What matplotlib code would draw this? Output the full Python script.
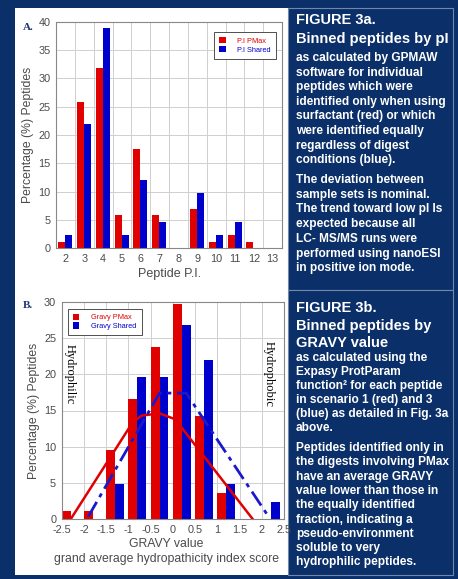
import matplotlib
matplotlib.use("Agg")
import matplotlib.pyplot as plt
from matplotlib.patches import Rectangle

# --- Data: Figure 3a, binned by pI ---
pi_bins = [2, 3, 4, 5, 6, 7, 8, 9, 10, 11, 12, 13]
pi_pmax = [1.1, 25.8, 31.8, 5.8, 17.6, 5.8, 0, 7.0, 1.1, 2.3, 1.1, 0]
pi_shared = [2.3, 21.9, 38.9, 2.3, 12.1, 4.7, 0, 9.7, 2.3, 4.7, 0, 0]

# --- Data: Figure 3b, binned by GRAVY ---
gravy_bins = [-2.5, -2.0, -1.5, -1.0, -0.5, 0.0, 0.5, 1.0, 1.5, 2.0]
gravy_pmax = [1.1, 1.1, 9.5, 16.6, 23.8, 29.7, 14.2, 3.6, 0, 0]
gravy_shared = [0, 0, 4.9, 19.6, 19.6, 26.8, 22.0, 4.9, 0, 2.4]
gravy_ticks = [-2.5, -2, -1.5, -1, -0.5, 0, 0.5, 1, 1.5, 2, 2.5]

# fitted trend lines
fit_pmax_x = [-2.3, -0.9, -0.7, -0.3, 0.05, 1.8]
fit_pmax_y = [0, 13.4, 14.3, 14.6, 13.8, 0]
fit_shared_x = [-1.9, -0.3, 0.3, 2.15]
fit_shared_y = [0.4, 17.4, 17.4, 0.4]

NAVY = "#0b2f68"
RED = "#e00000"
BLUE = "#0000cc"
GRID = "#cfcfcf"
TXT = "#4a4a4a"

W, H = 458, 579
plt.rcParams["font.family"] = ["Liberation Sans", "DejaVu Sans"]

fig = plt.figure(figsize=(W / 100, H / 100), dpi=100, facecolor=NAVY)


def fx(x):
    return x / W


def fy(y):
    return 1 - y / H


def box(x0, y0, x1, y1, **kw):
    fig.patches.append(Rectangle((fx(x0), fy(y1)), fx(x1) - fx(x0), fy(y0) - fy(y1),
                                 transform=fig.transFigure, zorder=-10, **kw))


# white panel + caption boxes
box(15, 8, 288, 575, facecolor="white", edgecolor="none")
box(288, 8, 453, 290, facecolor=NAVY, edgecolor="#7088ad", lw=0.8)
box(288, 290, 453, 575, facecolor=NAVY, edgecolor="#7088ad", lw=0.8)


def style_axes(ax):
    ax.set_facecolor("white")
    ax.grid(True, color=GRID, lw=0.7)
    ax.set_axisbelow(True)
    for s in ax.spines.values():
        s.set_color("#888888")
        s.set_linewidth(0.8)
    ax.tick_params(length=0, labelsize=7.8, colors=TXT, pad=4)


def small_legend(ax, loc, anchor):
    leg = ax.legend(loc=loc, bbox_to_anchor=anchor, fontsize=5.3,
                    fancybox=False, edgecolor="#333333", framealpha=1,
                    handlelength=0.9, handleheight=0.9, handletextpad=1.6,
                    borderpad=0.7, labelspacing=0.15)
    leg.get_frame().set_linewidth(0.6)
    for t, c in zip(leg.get_texts(), [RED, BLUE]):
        t.set_color(c)
    return leg


# --- Panel A ---
axA = fig.add_axes([fx(56), fy(248.3), fx(282) - fx(56), fy(21.7) - fy(248.3)])
style_axes(axA)
w = 0.37
axA.bar([b - w / 2 - 0.02 for b in pi_bins], pi_pmax, width=w, color=RED, label="P.I PMax")
axA.bar([b + w / 2 - 0.02 for b in pi_bins], pi_shared, width=w, color=BLUE, label="P.I Shared")
axA.set_xlim(1.5, 13.5)
axA.set_ylim(0, 40)
axA.set_xticks(pi_bins)
axA.set_xticks([b + 0.5 for b in pi_bins[:-1]], minor=True)
axA.set_yticks(range(0, 41, 5))
axA.grid(False, axis="x", which="major")
axA.grid(True, axis="x", which="minor", color=GRID, lw=0.7)
axA.tick_params(which="minor", length=0)
axA.set_xlabel("Peptide P.I.", fontsize=9, color=TXT, labelpad=3)
axA.set_ylabel("Percentage (%) Peptides", fontsize=8.8, color=TXT, labelpad=3)
small_legend(axA, "upper right", (0.99, 0.97))
fig.text(fx(28), fy(27), "A.", fontsize=8, fontweight="bold", family="Liberation Serif",
         color="#1c3575", ha="center", va="center")

# --- Panel B ---
axB = fig.add_axes([fx(61.7), fy(519.3), fx(284) - fx(61.7), fy(301.7) - fy(519.3)])
style_axes(axB)
wb = 0.2
axB.bar([b + 0.1 for b in gravy_bins], gravy_pmax, width=wb, color=RED, label="Gravy PMax")
axB.bar([b + 0.3 for b in gravy_bins], gravy_shared, width=wb, color=BLUE, label="Gravy Shared")
axB.plot(fit_pmax_x, fit_pmax_y, color=RED, lw=1.8)
axB.plot(fit_shared_x, fit_shared_y, color="#1a1acc", lw=2.0, linestyle=(0, (6, 2, 1.5, 2)))
axB.set_xlim(-2.5, 2.5)
axB.set_ylim(0, 30)
axB.set_xticks(gravy_ticks)
axB.set_xticklabels([f"{v:g}" for v in gravy_ticks])
axB.set_yticks(range(0, 31, 5))
axB.set_xlabel("GRAVY value\ngrand average hydropathicity index score", fontsize=8.8,
               color=TXT, linespacing=1.25)
axB.xaxis.set_label_coords(0.47, -0.088, transform=axB.transAxes)
axB.xaxis.label.set_va("top")
axB.set_ylabel("Percentage (%) Peptides", fontsize=8.8, color=TXT, labelpad=3)
small_legend(axB, "upper left", (0.01, 0.985))
axB.text(-2.31, 20, "Hydrophilic", rotation=-90, family="Liberation Serif", fontsize=9,
         ha="center", va="center", color="black")
axB.text(2.15, 20, "Hydrophobic", rotation=-90, family="Liberation Serif", fontsize=9,
         ha="center", va="center", color="black")
fig.text(fx(28), fy(306), "B.", fontsize=8, fontweight="bold", family="Liberation Serif",
         color="#1c3575", ha="center", va="center")

# --- Captions ---
def caption(lines, x=296):
    for y, s, size in lines:
        fig.text(fx(x), fy(y), s, fontsize=size, fontweight="bold", color="white",
                 ha="left", va="center")


HEAD, BODY = 10.5, 8.6
capA = [(20, "FIGURE 3a.", HEAD), (39, "Binned peptides by pI", HEAD)]
bodyA1 = ["as calculated by GPMAW", "software for individual", "peptides which were",
          "identified only when using", "surfactant (red) or which",
          "were identified equally", "regardless of digest", "conditions (blue)."]
bodyA2 = ["The deviation between", "sample sets is nominal.",
          "The trend toward low pI Is", "expected because all", "LC- MS/MS runs were",
          "performed using nanoESI", "in positive ion mode."]
capA += [(58 + i * 14.6, s, BODY) for i, s in enumerate(bodyA1)]
capA += [(180 + i * 14.7, s, BODY) for i, s in enumerate(bodyA2)]
caption(capA)

capB = [(308, "FIGURE 3b.", HEAD), (326, "Binned peptides by", HEAD), (343, "GRAVY value", HEAD)]
bodyB1 = ["as calculated using the", "Expasy ProtParam", "function\u00b2 for each peptide",
          "in scenario 1 (red) and 3", "(blue) as detailed in Fig. 3a", "above."]
bodyB2 = ["Peptides identified only in", "the digests involving PMax",
          "have an average GRAVY", "value lower than those in", "the equally identified",
          "fraction, indicating a", "pseudo-environment", "soluble to very",
          "hydrophilic peptides."]
capB += [(358 + i * 14, s, BODY) for i, s in enumerate(bodyB1)]
capB += [(448 + i * 14.3, s, BODY) for i, s in enumerate(bodyB2)]
caption(capB)

fig.savefig("out.png", dpi=100, facecolor=NAVY)
